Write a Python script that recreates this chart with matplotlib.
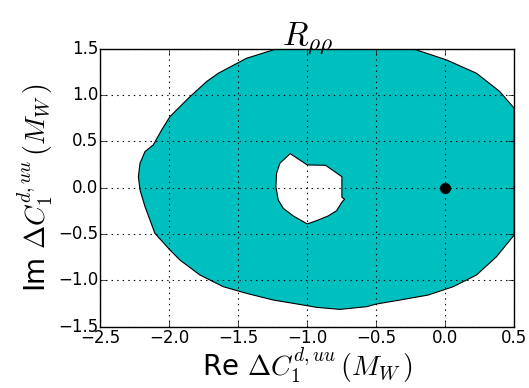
import matplotlib
matplotlib.use("Agg")
import matplotlib.pyplot as plt
import numpy as np
from matplotlib.path import Path
from matplotlib.patches import PathPatch

plt.style.use('classic')
plt.rcParams['mathtext.fontset'] = 'cm'

# Outer boundary of allowed region (Re, Im)
outer_re = [-1.221, -1.438, -1.643, -1.728, -1.860, -1.993, -2.053, -2.114, -2.174, -2.210,
            -2.222, -2.210, -2.174, -2.138, -2.102, -1.993, -1.921, -1.776, -1.607, -1.438,
            -1.245, -1.100, -1.028, -0.931, -0.762, -0.569, -0.497, -0.328, -0.123, 0.058,
            0.227, 0.372, 0.5, 0.5, 0.396, 0.227, 0.010, -0.231]
outer_im = [1.5, 1.399, 1.237, 1.147, 0.967, 0.769, 0.625, 0.463, 0.391, 0.265,
            0.121, -0.023, -0.203, -0.348, -0.492, -0.672, -0.780, -0.942, -1.068, -1.140,
            -1.212, -1.248, -1.266, -1.291, -1.313, -1.284, -1.255, -1.212, -1.158, -1.068,
            -0.942, -0.744, -0.510, 0.859, 1.039, 1.237, 1.381, 1.5]

# Hole boundary
hole_re = [-1.122, -1.197, -1.221, -1.226, -1.209, -1.173, -1.100, -0.999, -0.931, -0.847,
           -0.786, -0.745, -0.728, -0.748, -0.748, -0.866, -0.999]
hole_im = [0.369, 0.265, 0.157, 0.013, -0.131, -0.221, -0.304, -0.390, -0.355, -0.304,
           -0.247, -0.149, -0.124, -0.102, 0.120, 0.243, 0.247]

sm_re = [0.0]
sm_im = [0.0]

fig = plt.figure(figsize=(5.29, 3.88), dpi=100, facecolor='white')
ax = fig.add_axes([0.189, 0.158, 0.783, 0.716])

outer = np.column_stack([outer_re + [outer_re[0]], outer_im + [outer_im[0]]])
hole = np.column_stack([hole_re + [hole_re[0]], hole_im + [hole_im[0]]])[::-1]
verts = np.vstack([outer, hole])
codes = ([Path.MOVETO] + [Path.LINETO] * (len(outer) - 2) + [Path.CLOSEPOLY] +
         [Path.MOVETO] + [Path.LINETO] * (len(hole) - 2) + [Path.CLOSEPOLY])
patch = PathPatch(Path(verts, codes), facecolor=(0, 0.75, 0.75), edgecolor='black',
                  linewidth=0.8, zorder=1)
ax.add_patch(patch)

ax.plot(sm_re, sm_im, 'o', color='black', markersize=7.5, zorder=3)

ax.set_xlim(-2.5, 0.5)
ax.set_ylim(-1.5, 1.5)
ax.set_xticks(np.arange(-2.5, 0.51, 0.5))
ax.set_yticks(np.arange(-1.5, 1.51, 0.5))
ax.tick_params(labelsize=12)
ax.tick_params(axis='y', pad=1)
ax.tick_params(axis='x', pad=2)
ax.grid(True, linestyle=':', color='black', linewidth=0.8)
ax.set_axisbelow(False)

ax.set_xlabel(r'Re $\Delta C_1^{d,uu}\,(M_W\,)$', fontsize=20, labelpad=-1)
ax.set_ylabel(r'Im $\Delta C_1^{d,uu}\,(M_W\,)$', fontsize=20, labelpad=2)
ax.set_title(r'$R_{\rho\rho}$', fontsize=24, pad=3)

fig.savefig('out.png', dpi=100, facecolor='white')
